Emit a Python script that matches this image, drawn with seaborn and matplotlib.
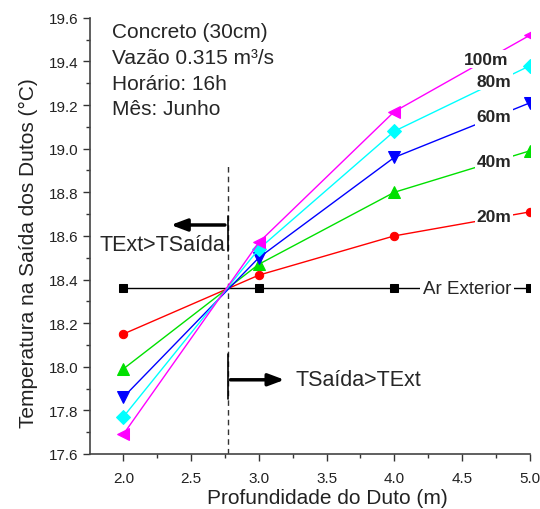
import matplotlib
matplotlib.use("Agg")
import matplotlib.pyplot as plt
import seaborn as sns
import pandas as pd
from matplotlib.ticker import MultipleLocator

sns.set_theme(style="ticks")
plt.rcParams['font.family'] = ['Liberation Sans', 'DejaVu Sans']

depth = [2.0, 3.0, 4.0, 5.0]
t20 = [18.15, 18.42, 18.60, 18.71]
t40 = [17.99, 18.47, 18.80, 18.99]
t60 = [17.86, 18.50, 18.96, 19.21]
t80 = [17.77, 18.54, 19.08, 19.38]
t100 = [17.69, 18.57, 19.17, 19.52]
ar_ext = [18.36, 18.36, 18.36, 18.36]
labels = ["20m", "40m", "60m", "80m", "100m"]
series = [t20, t40, t60, t80, t100]
colors = ["#FF0000", "#00E000", "#0000FF", "#00FFFF", "#FF00FF"]
markers = ["o", "^", "v", "D", "<"]
msizes = [6, 8, 8, 7, 8]
cross_x = 2.77

fig = plt.figure(figsize=(5.4, 5.1), dpi=100)
ax = fig.add_axes([0.167, 0.108, 0.814, 0.855])

df_ext = pd.DataFrame({"x": depth, "y": ar_ext})
sns.lineplot(data=df_ext, x="x", y="y", ax=ax, color="black", lw=1,
             marker="s", markersize=6, markeredgecolor="black", zorder=2)

for lab, ys, c, m, ms in zip(labels, series, colors, markers, msizes):
    df = pd.DataFrame({"x": depth, "y": ys})
    sns.lineplot(data=df, x="x", y="y", ax=ax, color=c, lw=1, marker=m,
                 markersize=ms, markeredgecolor=c, zorder=3)

# inline labels
box = dict(facecolor="white", edgecolor="none", pad=1)
lab_pos = {"100m": (4.675, 19.41), "80m": (4.735, 19.31), "60m": (4.735, 19.146),
           "40m": (4.735, 18.94), "20m": (4.735, 18.69)}
for lab in labels:
    x, y = lab_pos[lab]
    ax.text(x, y, lab, ha="center", va="center", fontsize=12.5,
            fontweight="bold", bbox=box, zorder=5)
ax.text(4.54, 18.36, "Ar Exterior", ha="center", va="center", fontsize=13.5,
        bbox=dict(facecolor="white", edgecolor="none", pad=2), zorder=5)

# vertical dashed line
ax.plot([cross_x, cross_x], [17.6, 18.93], ls=(0, (4, 3)), color="#333333", lw=1, zorder=1)
ax.plot([cross_x, cross_x], [18.53, 18.69], color="black", lw=1.2, zorder=1)
ax.plot([cross_x, cross_x], [17.85, 18.06], color="black", lw=1.2, zorder=1)

ax.annotate("", xy=(2.33, 18.65), xytext=(cross_x, 18.65),
            arrowprops=dict(arrowstyle="-|>,head_length=0.8,head_width=0.3", lw=2.5, color="black"))
ax.annotate("", xy=(3.21, 17.94), xytext=(cross_x, 17.94),
            arrowprops=dict(arrowstyle="-|>,head_length=0.8,head_width=0.3", lw=2.5, color="black"))
ax.text(2.75, 18.56, "TExt>TSaída", ha="right", va="center", fontsize=15.5)
ax.text(3.27, 17.94, "TSaída>TExt", ha="left", va="center", fontsize=15.5)

info = "Concreto (30cm)\nVazão 0.315 m³/s\nHorário: 16h\nMês: Junho"
ax.text(1.915, 19.58, info, ha="left", va="top", fontsize=15, linespacing=1.45)

ax.set_xlim(1.755, 5.0)
ax.set_ylim(17.6, 19.6)
ax.xaxis.set_major_locator(MultipleLocator(0.5))
ax.xaxis.set_minor_locator(MultipleLocator(0.25))
ax.yaxis.set_major_locator(MultipleLocator(0.2))
ax.yaxis.set_minor_locator(MultipleLocator(0.1))
ax.xaxis.set_major_formatter(matplotlib.ticker.FormatStrFormatter("%.1f"))
ax.yaxis.set_major_formatter(matplotlib.ticker.FormatStrFormatter("%.1f"))
ax.tick_params(which="major", length=5, width=1, labelsize=11, colors="#333333", labelcolor="#222222")
ax.tick_params(axis="x", which="major", pad=7)
ax.tick_params(which="minor", length=3, width=1, colors="#333333")
for s in ["top", "right"]:
    ax.spines[s].set_visible(False)
for s in ["left", "bottom"]:
    ax.spines[s].set_color("#444444")
    ax.spines[s].set_linewidth(1.2)
ax.set_xlabel("Profundidade do Duto (m)", fontsize=15, color="#222222")
ax.set_ylabel("Temperatura na Saída dos Dutos (°C)", fontsize=15, color="#222222")
ax.xaxis.set_label_coords(0.54, -0.078)
ax.yaxis.set_label_coords(-0.118, 0.463)
ax.set_facecolor("white")
fig.patch.set_facecolor("white")

fig.savefig("out.png", dpi=100)
